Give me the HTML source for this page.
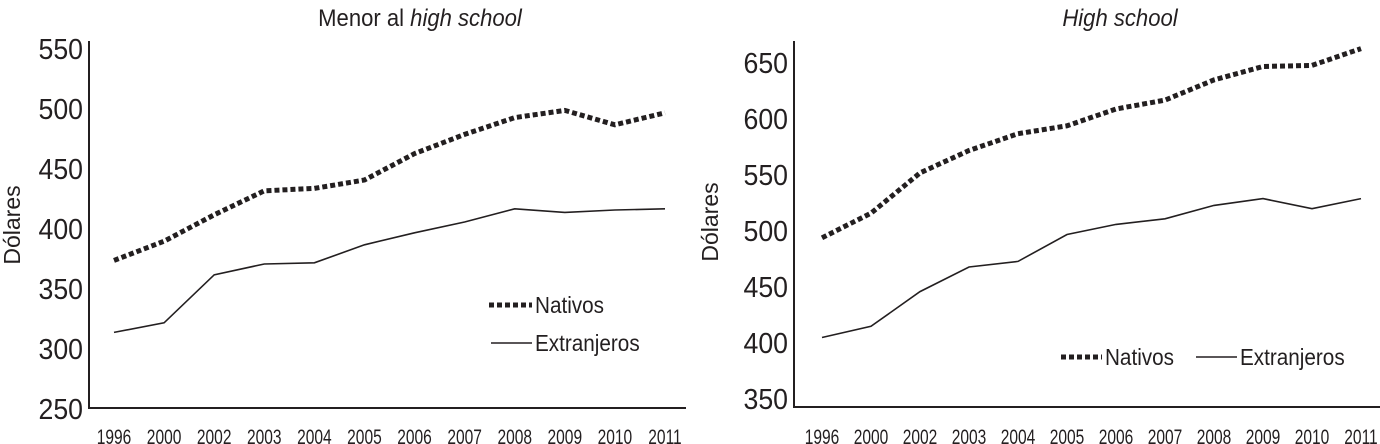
<!DOCTYPE html>
<html><head><meta charset="utf-8"><style>
html,body{margin:0;padding:0;background:#fff;}
svg{display:block;font-family:"Liberation Sans",sans-serif;}
</style></head><body>
<svg id="c" width="1380" height="444" viewBox="0 0 1380 444"></svg>
<script>
const years=["1996","2000","2002","2003","2004","2005","2006","2007","2008","2009","2010","2011"];
const leftNativos=[373,389,411,431,433,440,462,478,492,498,486,496];
const leftExtranjeros=[313,321,361,370,371,386,396,405,416,413,415,416];
const leftTicks=[250,300,350,400,450,500,550];
const rightNativos=[493,515,551,571,586,593,608,616,634,646,647,662];
const rightExtranjeros=[404,414,445,467,472,496,505,510,522,528,519,528];
const rightTicks=[350,400,450,500,550,600,650];
const NS="http://www.w3.org/2000/svg";
const svg=document.getElementById('c');
function mk(tag,attrs,parent,text){const e=document.createElementNS(NS,tag);for(const k in attrs)e.setAttribute(k,attrs[k]);if(text!==undefined)e.textContent=text;(parent||svg).appendChild(e);return e;}
function panel(cfg){
  const g=mk('g',{});
  
  
  const yS=v=>cfg.y0+(v-cfg.vmin)/(cfg.vmax-cfg.vmin)*(cfg.y1-cfg.y0);
  const xS=i=>cfg.xFirst+i*(cfg.xLast-cfg.xFirst)/(years.length-1);
  const t=mk('text',{x:cfg.titleX,y:26,'font-size':24,'text-anchor':'middle',fill:'#231f20',transform:`translate(${cfg.titleX},0) scale(0.92,1) translate(${-cfg.titleX},0)`},g);
  
  
  if(cfg.titlePre){mk('tspan',{},t,cfg.titlePre);}
  mk('tspan',{'font-style':'italic'},t,cfg.titleIt);
  const ax=mk('path',{d:`M${cfg.axX},${cfg.axTop}V${cfg.axBot}H${cfg.axRight}`,stroke:'#231f20','stroke-width':2,fill:'none'},g);
  
  
  cfg.ticks.forEach(v=>{
    const tx=cfg.axX-6;
    const e=mk('text',{x:tx,y:yS(v)+11,'font-size':29,'text-anchor':'end',fill:'#231f20',transform:`translate(${tx},0) scale(0.92,1) translate(${-tx},0)`},g,String(v));
    
    
  });
  years.forEach((yr,i)=>{
    const e=mk('text',{x:xS(i),y:cfg.yearY,'font-size':21,'text-anchor':'middle',fill:'#231f20',transform:`translate(${xS(i)},0) scale(0.74,1) translate(${-xS(i)},0)`},g,yr);
    
    
  });
  const yl=mk('text',{x:0,y:0,'font-size':23,'text-anchor':'middle',fill:'#231f20',transform:`translate(${cfg.ylabX},${cfg.ylabY}) rotate(-90)`},g,'Dólares');
  
  
  const pts=a=>a.map((v,i)=>xS(i).toFixed(1)+','+yS(v).toFixed(1)).join(' ');
  const n=mk('polyline',{points:pts(cfg.nat),fill:'none',stroke:'#231f20','stroke-width':5,'stroke-dasharray':'5,3'},g);
  
  
  const x=mk('polyline',{points:pts(cfg.ext),fill:'none',stroke:'#231f20','stroke-width':1.6},g);
  
  
  cfg.legend.forEach(L=>{
    const lg=mk('g',{},g);
    
    
    mk('line',{x1:L.x1,x2:L.x2,y1:L.y,y2:L.y,stroke:'#231f20','stroke-width':L.dash?5:1.6,'stroke-dasharray':L.dash?'5,3':'none'},lg);
    mk('text',{x:L.x2+3,y:L.y+8,'font-size':23,fill:'#231f20',transform:`translate(${L.x2+3},0) scale(0.9,1) translate(${-(L.x2+3)},0)`},lg,L.text);
  });
}
panel({name:'panel-menor-high-school',titleX:420,titlePre:'Menor al ',titleIt:'high school',
  axX:89,axTop:41,axBot:408,axRight:686,vmin:250,vmax:550,y0:408,y1:48,
  xFirst:114,xLast:665,yearY:444,ticks:leftTicks,nat:leftNativos,ext:leftExtranjeros,
  ylabX:20,ylabY:225,
  legend:[{x1:489,x2:532,y:305,dash:true,text:'Nativos'},{x1:491,x2:532,y:343,dash:false,text:'Extranjeros'}]});
panel({name:'panel-high-school',titleX:1120,titlePre:'',titleIt:'High school',
  axX:794,axTop:41,axBot:407,axRight:1380,vmin:350,vmax:650,y0:398,y1:62,
  xFirst:822,xLast:1361,yearY:444,ticks:rightTicks,nat:rightNativos,ext:rightExtranjeros,
  ylabX:718,ylabY:222,
  legend:[{x1:1061,x2:1102,y:357,dash:true,text:'Nativos'},{x1:1196,x2:1237,y:357,dash:false,text:'Extranjeros'}]});
</script>
</body></html>
